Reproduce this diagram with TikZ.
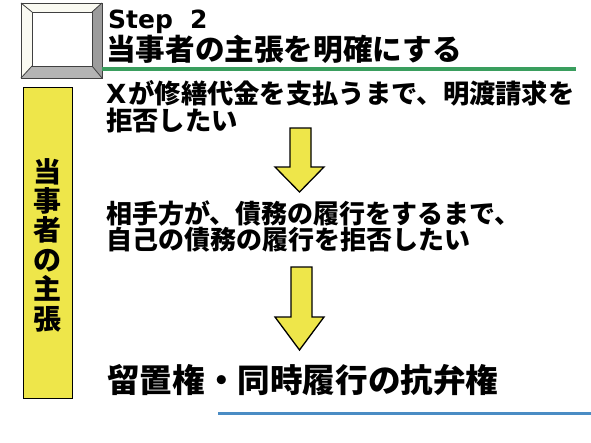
\documentclass[tikz,border=0pt]{standalone}
\usepackage{fontspec}
\newfontfamily\jp{Noto Sans CJK JP}[BoldFont={Noto Sans CJK JP Black}]
\newfontfamily\lat{DejaVu Sans}
\definecolor{barY}{HTML}{EEE64A}
\definecolor{lineG}{HTML}{3A9E5E}
\definecolor{lineB}{HTML}{4A8CC4}
\definecolor{faceL}{HTML}{FAFAF2}
\definecolor{faceR}{HTML}{9C9C9C}
\definecolor{faceB}{HTML}{B4B4B4}
\tikzset{
  jtext/.style={inner sep=0pt, anchor=base west, align=left, font=\jp\bfseries},
  yarrow/.style={fill=barY, draw=black, line width=1.3pt, line join=miter},
  bevel/.style={draw=black!75, line width=0.8pt, line join=miter},
}
\begin{document}
\begin{tikzpicture}[x=1pt,y=-1pt]
\useasboundingbox (0,0) rectangle (591,442);
\fill[white] (0,0) rectangle (591,442);
% bevel box
\coordinate (o1) at (21,3); \coordinate (o2) at (102,3);
\coordinate (o3) at (102,78); \coordinate (o4) at (21,78);
\coordinate (i1) at (32,12); \coordinate (i2) at (92,12);
\coordinate (i3) at (92,66); \coordinate (i4) at (32,66);
\fill[faceL] (o1) -- (o2) -- (i2) -- (i1) -- cycle;
\fill[faceL] (o1) -- (i1) -- (i4) -- (o4) -- cycle;
\fill[faceR] (o2) -- (o3) -- (i3) -- (i2) -- cycle;
\fill[faceB] (o4) -- (i4) -- (i3) -- (o3) -- cycle;
\fill[white] (i1) rectangle (i3);
\draw[bevel] (o1) rectangle (o3);
\draw[bevel] (i1) rectangle (i3);
\draw[bevel] (o1) -- (i1) (o2) -- (i2) (o3) -- (i3) (o4) -- (i4);
% title
\node[jtext, font=\lat\bfseries\fontsize{25}{25}\selectfont] (step) at (108,28) {Step\hspace{17pt}2};
\node[jtext, font=\jp\bfseries\fontsize{29.6}{29.6}\selectfont] (title) at (106,60) {当事者の主張を明確にする};
\coordinate (gS) at (102,69); \coordinate (gE) at (576,69);
\draw[lineG, line width=4pt] (gS) -- (gE);
% side bar
\node[fill=barY, draw=black, line width=1.3pt, minimum width=49pt, minimum height=311pt, inner sep=0pt, anchor=north west] (bar) at (23,87) {};
\node[inner sep=0pt, anchor=base, align=center, font=\jp\bfseries\fontsize{28}{29.4}\selectfont] (bartext) at (47.5,329) {当\\事\\者\\の\\主\\張};
% texts
\node[jtext, font=\jp\bfseries\fontsize{26.3}{24.5}\selectfont] (t1) at (106,130) {{\lat\bfseries X}\hspace{2pt}が修繕代金を支払うまで、明渡請求を\\拒否したい};
\node[jtext, font=\jp\bfseries\fontsize{26}{23.5}\selectfont] (t2) at (106,249) {相手方が、債務の履行をするまで、\\自己の債務の履行を拒否したい};
\node[jtext, font=\jp\bfseries\fontsize{32.6}{33}\selectfont] (t3) at (107,392) {留置権・同時履行の抗弁権};
% arrows
\draw[yarrow] (290,128) -- (311,128) -- (311,167) -- (324,167) -- (299.5,192) -- (275,167) -- (290,167) -- cycle;
\draw[yarrow] (291,267) -- (312,267) -- (312,317) -- (324,317) -- (299.5,350) -- (275,317) -- (291,317) -- cycle;
% blue line
\coordinate (bS) at (218,413); \coordinate (bE) at (591,413);
\draw[lineB, line width=3pt] (bS) -- (bE);
\end{tikzpicture}
\end{document}
